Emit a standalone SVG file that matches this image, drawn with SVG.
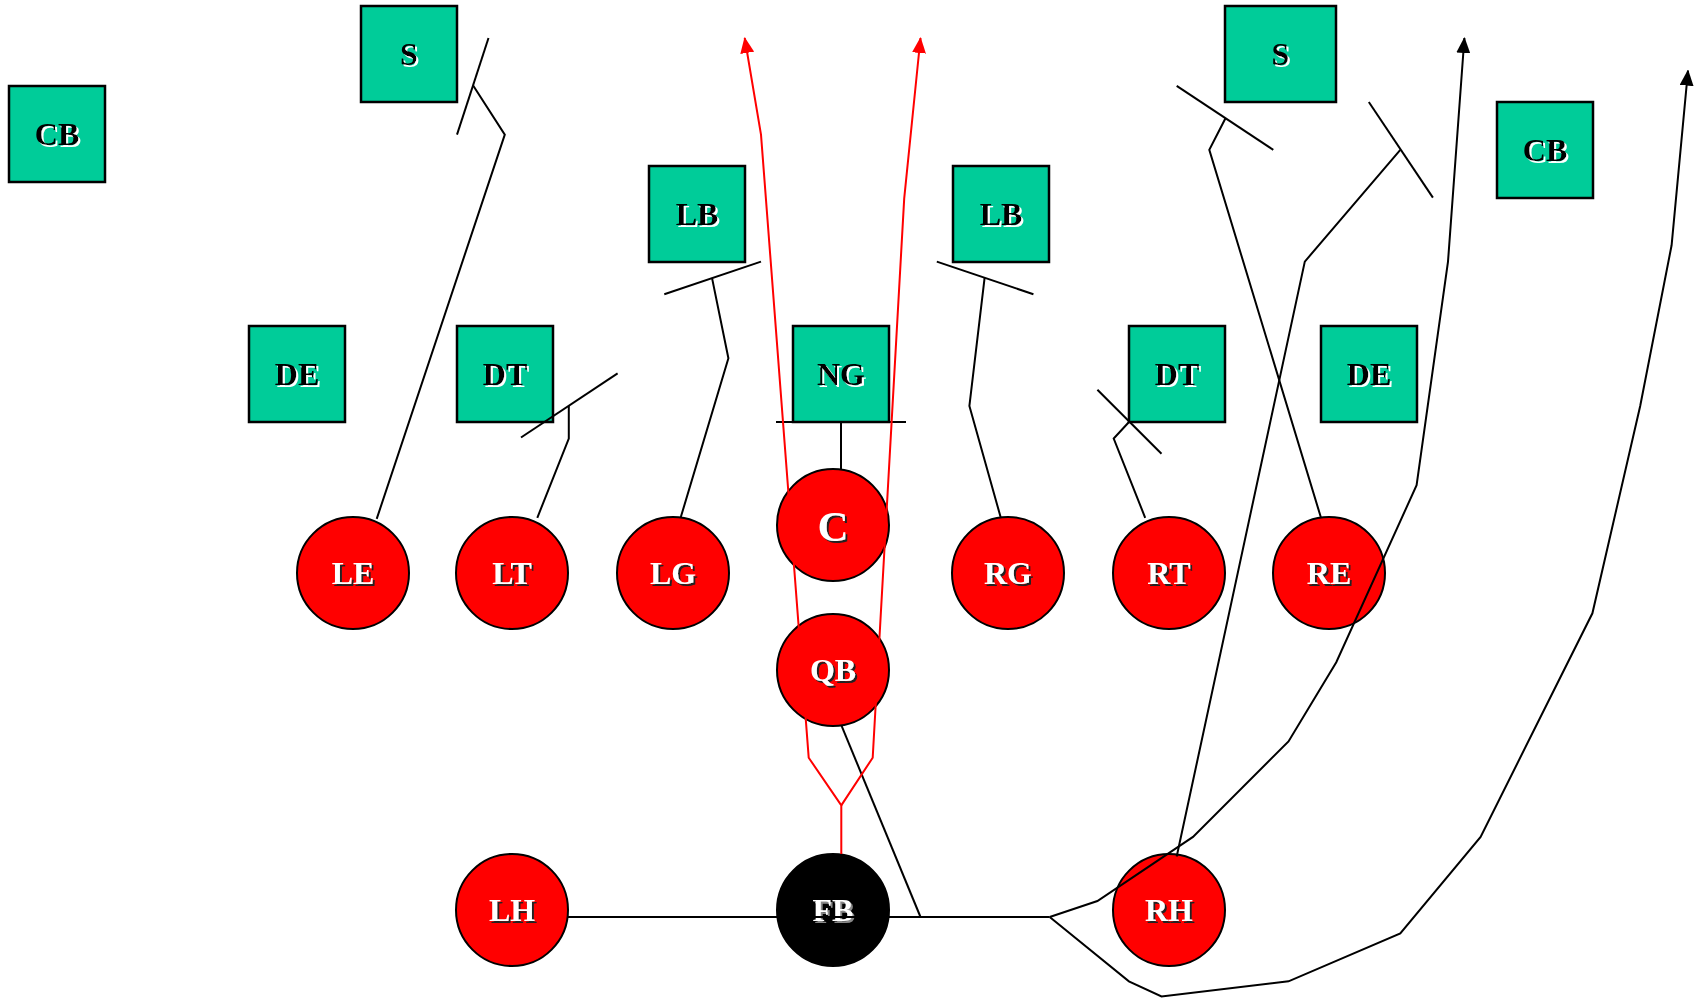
<svg xmlns="http://www.w3.org/2000/svg" width="1702" height="999" viewBox="0 0 1702 999">
<style>
.d{fill:#00CC99;stroke:#000;stroke-width:2.5}
.o{fill:#FF0000;stroke:#000;stroke-width:2}
.f{fill:#000;stroke:#000;stroke-width:2}
.td{font-family:"Liberation Serif","Times New Roman",serif;font-weight:bold;font-size:32px;fill:#000;text-anchor:middle;filter:url(#sw)}
.to{font-family:"Liberation Serif","Times New Roman",serif;font-weight:bold;font-size:32px;fill:#fff;text-anchor:middle;filter:url(#sb)}
.tf{font-family:"Liberation Serif","Times New Roman",serif;font-weight:bold;font-size:32px;fill:#fff;text-anchor:middle;filter:url(#sg)}
.k{fill:none;stroke:#000;stroke-width:2}
.r{fill:none;stroke:#FF0000;stroke-width:2}
</style>
<defs>
<filter id="sw" x="-20%" y="-20%" width="140%" height="140%"><feDropShadow dx="2" dy="2" stdDeviation="0" flood-color="#fff"/></filter>
<filter id="sb" x="-20%" y="-20%" width="140%" height="140%"><feDropShadow dx="2" dy="2" stdDeviation="0" flood-color="#222"/></filter>
<filter id="sg" x="-20%" y="-20%" width="140%" height="140%"><feDropShadow dx="2" dy="2" stdDeviation="0" flood-color="#888"/></filter>
<marker id="ar" markerUnits="userSpaceOnUse" markerWidth="16" markerHeight="14" refX="15" refY="7" orient="auto"><path d="M0,0 L16,7 L0,14 z" fill="#FF0000"/></marker>
<marker id="ak" markerUnits="userSpaceOnUse" markerWidth="16" markerHeight="14" refX="15" refY="7" orient="auto"><path d="M0,0 L16,7 L0,14 z" fill="#000"/></marker>
</defs>
<rect width="1702" height="999" fill="#fff"/>
<g id="cb-left"><rect class="d" x="9" y="86" width="96" height="96"/><text class="td" x="57" y="145">CB</text></g>
<g id="s-left"><rect class="d" x="361" y="6" width="96" height="96"/><text class="td" x="409" y="65">S</text></g>
<g id="lb-left"><rect class="d" x="649" y="166" width="96" height="96"/><text class="td" x="697" y="225">LB</text></g>
<g id="lb-right"><rect class="d" x="953" y="166" width="96" height="96"/><text class="td" x="1001" y="225">LB</text></g>
<g id="s-right"><rect class="d" x="1225" y="6" width="111" height="96"/><text class="td" x="1280.5" y="65">S</text></g>
<g id="cb-right"><rect class="d" x="1497" y="102" width="96" height="96"/><text class="td" x="1545" y="161">CB</text></g>
<g id="de-left"><rect class="d" x="249" y="326" width="96" height="96"/><text class="td" x="297" y="385">DE</text></g>
<g id="dt-left"><rect class="d" x="457" y="326" width="96" height="96"/><text class="td" x="505" y="385">DT</text></g>
<g id="ng"><rect class="d" x="793" y="326" width="96" height="96"/><text class="td" x="841" y="385">NG</text></g>
<g id="dt-right"><rect class="d" x="1129" y="326" width="96" height="96"/><text class="td" x="1177" y="385">DT</text></g>
<g id="de-right"><rect class="d" x="1321" y="326" width="96" height="96"/><text class="td" x="1369" y="385">DE</text></g>
<g id="le"><circle class="o" cx="353" cy="573" r="56"/><text class="to" x="353" y="584">LE</text></g>
<g id="lt"><circle class="o" cx="512" cy="573" r="56"/><text class="to" x="512" y="584">LT</text></g>
<g id="lg"><circle class="o" cx="673" cy="573" r="56"/><text class="to" x="673" y="584">LG</text></g>
<g id="c"><circle class="o" cx="833" cy="525" r="56"/><text class="to" x="833" y="541" style="font-size:43px">C</text></g>
<g id="rg"><circle class="o" cx="1008" cy="573" r="56"/><text class="to" x="1008" y="584">RG</text></g>
<g id="rt"><circle class="o" cx="1169" cy="573" r="56"/><text class="to" x="1169" y="584">RT</text></g>
<g id="re"><circle class="o" cx="1329" cy="573" r="56"/><text class="to" x="1329" y="584">RE</text></g>
<g id="qb"><circle class="o" cx="833" cy="670" r="56"/><text class="to" x="833" y="681">QB</text></g>
<g id="lh"><circle class="o" cx="512" cy="910" r="56"/><text class="to" x="512" y="921">LH</text></g>
<g id="fb"><circle class="f" cx="833" cy="910" r="56"/><text class="tf" x="833" y="921">FB</text></g>
<g id="rh"><circle class="o" cx="1169" cy="910" r="56"/><text class="to" x="1169" y="921">RH</text></g>
<g id="connectors">
<polyline class="k" points="376.7,518.9 504.8,134.6 473.3,85.8"/>
<line class="k" x1="488.5" y1="38" x2="457" y2="134.6"/>
<polyline class="k" points="537.3,517.8 568.8,438.5 568.8,406"/>
<line class="k" x1="521" y1="437.5" x2="617.6" y2="373.4"/>
<polyline class="k" points="680.6,517.8 728.4,358.2 712,277.9"/>
<line class="k" x1="664.3" y1="294.2" x2="761" y2="261.6"/>
<line class="k" x1="841" y1="470" x2="841" y2="422"/>
<line class="k" x1="776" y1="422" x2="906" y2="422"/>
<polyline class="k" points="1000.8,517.8 969.4,406 984.6,277.9"/>
<line class="k" x1="936.8" y1="261.6" x2="1033.4" y2="294.2"/>
<polyline class="k" points="1145.2,517.8 1113.7,438.5 1129,422"/>
<line class="k" x1="1097.4" y1="389.7" x2="1161.5" y2="453.7"/>
<polyline class="k" points="1321,517.8 1209.3,149.8 1225.5,118.3"/>
<line class="k" x1="1176.7" y1="85.8" x2="1273.3" y2="149.8"/>
<polyline class="k" points="1176.7,856.5 1304.8,261.6 1400.3,149.8"/>
<line class="k" x1="1368.8" y1="102" x2="1432.9" y2="197.6"/>
<line class="k" x1="568" y1="917" x2="1049.7" y2="917"/>
<polyline class="k" points="841.3,725.1 920.5,917"/>
<polyline class="k" marker-end="url(#ak)" points="1049.7,917 1097.4,901 1193,836.9 1288.5,741.4 1336.3,662.2 1416.6,485.2 1448,261.6 1464.4,38"/>
<polyline class="k" marker-end="url(#ak)" points="1049.7,917 1128.9,981.3 1161.5,996.5 1288.5,981.3 1400.3,933.5 1480.6,836.9 1592.4,613.3 1640.2,406 1671.6,245.3 1688,70.6"/>
<polyline class="r" marker-end="url(#ar)" points="841.3,854 841.3,805.4 808.7,757.7 761,134.6 744.7,38"/>
<polyline class="r" marker-end="url(#ar)" points="841.3,805.4 872.7,757.7 904.2,198.6 920.5,38"/>
</g>
</svg>
